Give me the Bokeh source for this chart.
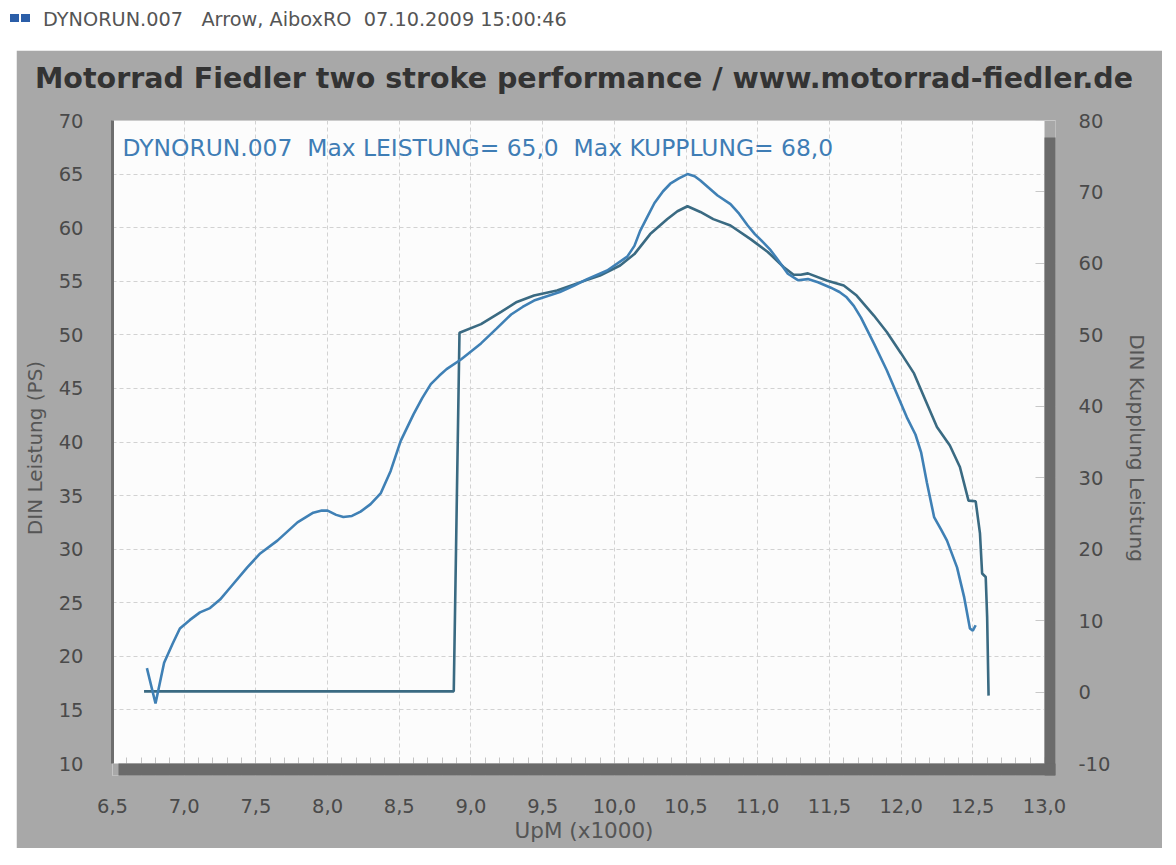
from bokeh.plotting import figure
from bokeh.models import (Range1d, LinearAxis, FixedTicker, Label, Title,
                          Div, Spacer, CustomJSTickFormatter, ColumnDataSource)
from bokeh.layouts import column, row
from bokeh.embed import file_html
from bokeh.resources import INLINE
import numpy as np

# ---------------- data ----------------
HEADER = "DYNORUN.007   Arrow, AiboxRO  07.10.2009 15:00:46"
TITLE = "Motorrad Fiedler two stroke performance / www.motorrad-fiedler.de"
RUN = "DYNORUN.007"

XTICKS = [6.5, 7.0, 7.5, 8.0, 8.5, 9.0, 9.5, 10.0, 10.5, 11.0, 11.5, 12.0, 12.5, 13.0]
XTICK_LABELS = ["6,5", "7,0", "7,5", "8,0", "8,5", "9,0", "9,5", "10,0", "10,5",
                "11,0", "11,5", "12,0", "12,5", "13,0"]
LEFT_TICKS = [10, 15, 20, 25, 30, 35, 40, 45, 50, 55, 60, 65, 70]
LEFT_TICK_LABELS = ["10", "15", "20", "25", "30", "35", "40", "45", "50", "55", "60", "65", "70"]
RIGHT_TICKS = [-10, 0, 10, 20, 30, 40, 50, 60, 70, 80]
RIGHT_TICK_LABELS = ["-10", "0", "10", "20", "30", "40", "50", "60", "70", "80"]

# DIN Leistung (PS), left axis
rpm_leistung = [6.74, 6.80, 6.86, 6.92, 6.97, 7.04, 7.11, 7.18, 7.25, 7.32, 7.44, 7.53,
                7.65, 7.79, 7.90, 7.96, 8.00, 8.06, 8.11, 8.17, 8.23, 8.30, 8.37, 8.44,
                8.51, 8.60, 8.66, 8.72, 8.78, 8.83, 8.93, 9.07, 9.18, 9.28, 9.36, 9.44,
                9.53, 9.62, 9.72, 9.81, 9.95, 10.09, 10.14, 10.18, 10.23, 10.28, 10.34,
                10.39, 10.45, 10.51, 10.56, 10.60, 10.66, 10.72, 10.81, 10.87, 10.93,
                10.98, 11.04, 11.09, 11.14, 11.21, 11.28, 11.35, 11.42, 11.51, 11.57,
                11.62, 11.67, 11.72, 11.81, 11.90, 11.97, 12.04, 12.10, 12.14, 12.18,
                12.23, 12.28, 12.32, 12.39, 12.44, 12.48, 12.50, 12.52]
leistung = [18.9, 15.6, 19.4, 21.2, 22.6, 23.4, 24.1, 24.5, 25.3, 26.4, 28.3, 29.6,
            30.8, 32.5, 33.4, 33.6, 33.6, 33.2, 33.0, 33.1, 33.5, 34.2, 35.2, 37.3,
            40.1, 42.6, 44.1, 45.4, 46.2, 46.8, 47.7, 49.2, 50.6, 51.9, 52.6, 53.2,
            53.6, 54.0, 54.6, 55.2, 56.0, 57.3, 58.3, 59.7, 61.0, 62.3, 63.4,
            64.1, 64.6, 65.0, 64.8, 64.4, 63.7, 63.0, 62.2, 61.3, 60.2,
            59.4, 58.6, 57.9, 57.0, 55.7, 55.1, 55.2, 54.9, 54.4, 54.0,
            53.5, 52.7, 51.6, 49.2, 46.7, 44.5, 42.3, 40.7, 39.0, 36.2,
            33.0, 31.8, 30.8, 28.3, 25.5, 22.6, 22.4, 22.9]

# DIN Kupplung Leistung, right axis
rpm_kupplung = [6.72, 8.88, 8.92, 9.07, 9.21, 9.32, 9.44, 9.60, 9.74, 9.90, 10.04, 10.14,
                10.25, 10.37, 10.44, 10.51, 10.60, 10.69, 10.81, 10.95, 11.07, 11.18,
                11.25, 11.30, 11.35, 11.48, 11.60, 11.69, 11.81, 11.90, 12.00, 12.09,
                12.16, 12.25, 12.34, 12.41, 12.47, 12.52, 12.55, 12.565, 12.59, 12.60, 12.61]
kupplung = [0.1, 0.1, 50.3, 51.5, 53.2, 54.6, 55.5, 56.2, 57.2, 58.3, 59.7, 61.3,
            64.1, 66.2, 67.3, 68.0, 67.2, 66.2, 65.3, 63.4, 61.6, 59.5,
            58.4, 58.4, 58.6, 57.6, 56.9, 55.5, 52.7, 50.4, 47.4, 44.6,
            41.3, 37.1, 34.5, 31.5, 26.8, 26.7, 22.2, 16.6, 16.1, 10.5, -0.5]

# ---------------- styles / geometry ----------------
FONT = "DejaVu Sans"
GREY = "#a8a8a8"
SHADOW = "#6b6b6b"
PAPER = "#fcfcfc"
TICK_COLOR = "#4a4a4a"
LABEL_COLOR = "#555555"
C_LEISTUNG = "#3f80b5"
C_KUPPLUNG = "#3a6a82"

X0, X1 = 6.5, 13.0          # plot (white) area in data units
Y0, Y1 = 10.0, 70.0
R0, R1 = -10.0, 80.0        # right axis over the same white area
PLOT_W, PLOT_H = 932, 643   # white area in pixels
SH_X, SH_Y = 11, 12         # shadow thickness in pixels
SH_TOP, SH_LEFT = 17, 6     # shadow start offsets in pixels

xpx = (X1 - X0) / PLOT_W
ypx = (Y1 - Y0) / PLOT_H
rpx = (R1 - R0) / PLOT_H
X_END = X1 + SH_X * xpx
Y_END = Y0 - SH_Y * ypx
R_END = R0 - SH_Y * rpx

BORDER_L, BORDER_R, BORDER_T, BORDER_B = 96, 107, 70, 73
FIG_W = BORDER_L + PLOT_W + SH_X + BORDER_R
FIG_H = BORDER_T + PLOT_H + SH_Y + BORDER_B


def fmt(tvals, tlabels):
    return CustomJSTickFormatter(args=dict(tvals=tvals, tlabels=tlabels), code="""
        for (let i = 0; i < tvals.length; i++) {
            if (Math.abs(tvals[i] - tick) < 1e-6) return tlabels[i];
        }
        return '';
    """)


p = figure(width=FIG_W, height=FIG_H, x_range=Range1d(X0, X_END), y_range=Range1d(Y_END, Y1),
           output_backend="svg", toolbar_location=None,
           min_border_left=BORDER_L, min_border_right=BORDER_R,
           min_border_top=BORDER_T, min_border_bottom=BORDER_B,
           border_fill_color=GREY, background_fill_color=GREY, outline_line_color=None)
p.extra_y_ranges = {"kupplung": Range1d(R_END, R1)}

# white plot area and its drop shadow
p.quad(left=[X0], right=[X1], bottom=[Y0], top=[Y1], fill_color=PAPER, line_color=None, level="image")
p.quad(left=[X1], right=[X_END], bottom=[Y_END], top=[Y1 - SH_TOP * ypx],
       fill_color=SHADOW, line_color=None, level="overlay")
p.quad(left=[X0 + SH_LEFT * xpx], right=[X_END], bottom=[Y_END], top=[Y0],
       fill_color=SHADOW, line_color=None, level="overlay")

# title (outermost) plus a spacer panel (grey on grey) between it and the plot
p.title.text = TITLE
p.title.align = "center"
p.title.text_font = FONT
p.title.text_font_style = "bold"
p.title.text_font_size = "28.5px"
p.title.text_color = "#333333"
p.title.standoff = 0
p.add_layout(Title(text=".", text_font_size="1px", text_color=GREY, standoff=23), "above")

# x axis
xticker = FixedTicker(ticks=XTICKS, minor_ticks=list(np.round(np.arange(6.5, 13.01, 0.1), 2)))
xa = p.xaxis[0]
xa.ticker = xticker
xa.formatter = fmt(XTICKS, XTICK_LABELS)
xa.axis_line_color = None
xa.major_tick_in = SH_Y + 6
xa.major_tick_out = 0
xa.minor_tick_in = SH_Y + 6
xa.minor_tick_out = 0
xa.major_tick_line_color = "#c4c4c4"
xa.minor_tick_line_color = "#c4c4c4"
xa.major_label_standoff = 35 - SH_Y
xa.major_label_text_font = FONT
xa.major_label_text_font_size = "19.5px"
xa.major_label_text_color = TICK_COLOR
xa.axis_label = "UpM (x1000)"
xa.axis_label_text_font = FONT
xa.axis_label_text_font_style = "normal"
xa.axis_label_text_font_size = "21.5px"
xa.axis_label_text_color = LABEL_COLOR
xa.axis_label_standoff = 2

# left axis
lticker = FixedTicker(ticks=LEFT_TICKS, minor_ticks=[])
ya = p.yaxis[0]
ya.ticker = lticker
ya.formatter = fmt(LEFT_TICKS, LEFT_TICK_LABELS)
ya.bounds = (Y0, Y1)
ya.axis_line_color = "#6e6e6e"
ya.axis_line_width = 3
ya.major_tick_in = 0
ya.major_tick_out = 0
ya.minor_tick_line_color = None
ya.major_label_standoff = 29
ya.major_label_text_font = FONT
ya.major_label_text_font_size = "19.5px"
ya.major_label_text_color = TICK_COLOR
ya.axis_label = "DIN Leistung (PS)"
ya.axis_label_text_font = FONT
ya.axis_label_text_font_style = "normal"
ya.axis_label_text_font_size = "20px"
ya.axis_label_text_color = LABEL_COLOR
ya.axis_label_standoff = 9

# right axis
rticker = FixedTicker(ticks=RIGHT_TICKS, minor_ticks=[])
ra = LinearAxis(y_range_name="kupplung", ticker=rticker, formatter=fmt(RIGHT_TICKS, RIGHT_TICK_LABELS))
ra.axis_line_color = None
ra.major_tick_in = SH_X + 9
ra.major_tick_out = 0
ra.major_tick_line_color = "#c8c8c8"
ra.minor_tick_line_color = None
ra.major_label_standoff = 23
ra.major_label_text_font = FONT
ra.major_label_text_font_size = "19.5px"
ra.major_label_text_color = TICK_COLOR
ra.axis_label = "DIN Kupplung Leistung"
ra.axis_label_text_font = FONT
ra.axis_label_text_font_style = "normal"
ra.axis_label_text_font_size = "20px"
ra.axis_label_text_color = LABEL_COLOR
ra.axis_label_standoff = 12
p.add_layout(ra, "right")

# grids
p.xgrid.ticker = xticker
p.ygrid.ticker = lticker
for g in (p.xgrid[0], p.ygrid[0]):
    g.grid_line_color = "#d2d2d2"
    g.grid_line_dash = "4 3"
    g.grid_line_width = 1

# curves
src_l = ColumnDataSource(dict(x=rpm_leistung, y=leistung))
src_k = ColumnDataSource(dict(x=rpm_kupplung, y=kupplung))
p.line("x", "y", source=src_k, y_range_name="kupplung", line_color=C_KUPPLUNG, line_width=2.6)
p.line("x", "y", source=src_l, line_color=C_LEISTUNG, line_width=2.6)

# in-plot info text
GAP = "\u00a0\u00a0"
info = "{}{}Max LEISTUNG= {}{}Max KUPPLUNG= {}".format(
    RUN, GAP, ("%.1f" % max(leistung)).replace(".", ","), GAP,
    ("%.1f" % max(kupplung)).replace(".", ","))
p.add_layout(Label(x=X0 + 10 * xpx, y=Y1 - 27 * ypx, text=info, text_font=FONT,
                   text_font_size="23.4px", text_color="#3f7db5",
                   text_baseline="middle", text_align="left"))

square = ('<span style="display:inline-block;width:9px;height:8px;background:#2b5ea8;'
          'margin-right:2px;vertical-align:middle;position:relative;top:-3px;"></span>')
header_html = ('<div style="font-family:\'DejaVu Sans\';font-size:19.3px;color:#555555;'
               'white-space:pre;padding:9px 0 0 10px;line-height:22px;">'
               + square + square + '<span style="margin-left:11px;">' + HEADER + '</span></div>')
header = Div(text=header_html, width=1160, height=50, margin=(0, 0, 0, 0))

layout = column(header, row(Spacer(width=1162 - FIG_W, height=FIG_H), p))

open("out.html", "w").write(file_html(layout, INLINE))
